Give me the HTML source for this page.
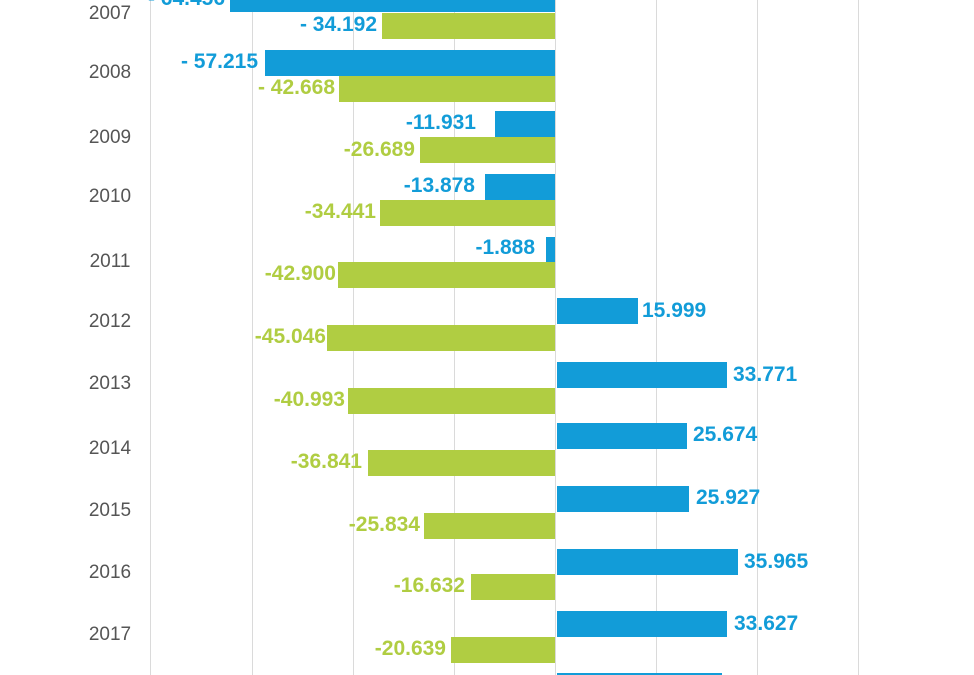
<!DOCTYPE html>
<html><head><meta charset="utf-8"><style>
html{overflow:hidden}
body{margin:0;background:#fff;width:974px;height:675px;overflow:hidden;position:relative;font-family:"Liberation Sans",sans-serif}
.g{position:absolute;top:0;height:675px;width:1px;background:#dadada}
.b{position:absolute;height:26px;background:#129cd8}
.n{position:absolute;height:26px;background:#b0cd42}
.y{position:absolute;left:65px;width:90px;text-align:center;font-size:19px;color:#555;line-height:24px}
.l{position:absolute;font-size:21px;font-weight:bold;line-height:26px;white-space:nowrap;letter-spacing:0}
.lb{color:#129cd8}.lg{color:#b0cd42}
.r{text-align:right;width:200px}
</style></head><body>
<div class="g" style="left:150px"></div><div class="g" style="left:252px"></div><div class="g" style="left:353px"></div><div class="g" style="left:454px"></div><div class="g" style="left:555px"></div><div class="g" style="left:656px"></div><div class="g" style="left:757px"></div><div class="g" style="left:858px"></div>

<div class="y" style="top:2px">2007</div>
<div class="b" style="left:230px;width:325px;top:-14px"></div><div class="l lb r" style="left:25px;top:-14px">- 64.456</div>
<div class="n" style="left:382px;width:173px;top:13px"></div><div class="l lb r" style="left:177px;top:12px">- 34.192</div>

<div class="y" style="top:61px">2008</div>
<div class="b" style="left:265px;width:290px;top:50px"></div><div class="l lb r" style="left:58px;top:49px">- 57.215</div>
<div class="n" style="left:339px;width:216px;top:76px"></div><div class="l lg r" style="left:135px;top:75px">- 42.668</div>

<div class="y" style="top:126px">2009</div>
<div class="b" style="left:495px;width:60px;top:111px"></div><div class="l lb r" style="left:276px;top:110px">-11.931</div>
<div class="n" style="left:420px;width:135px;top:137px"></div><div class="l lg r" style="left:215px;top:137px">-26.689</div>

<div class="y" style="top:185px">2010</div>
<div class="b" style="left:485px;width:70px;top:174px"></div><div class="l lb r" style="left:275px;top:173px">-13.878</div>
<div class="n" style="left:380px;width:175px;top:200px"></div><div class="l lg r" style="left:176px;top:199px">-34.441</div>

<div class="y" style="top:250px">2011</div>
<div class="b" style="left:546px;width:9px;top:237px"></div><div class="l lb r" style="left:335px;top:235px">-1.888</div>
<div class="n" style="left:338px;width:217px;top:262px"></div><div class="l lg r" style="left:136px;top:261px">-42.900</div>

<div class="y" style="top:310px">2012</div>
<div class="b" style="left:557px;width:81px;top:298px"></div><div class="l lb" style="left:642px;top:298px">15.999</div>
<div class="n" style="left:327px;width:228px;top:325px"></div><div class="l lg r" style="left:126px;top:324px">-45.046</div>

<div class="y" style="top:372px">2013</div>
<div class="b" style="left:557px;width:170px;top:362px"></div><div class="l lb" style="left:733px;top:362px">33.771</div>
<div class="n" style="left:348px;width:207px;top:388px"></div><div class="l lg r" style="left:145px;top:387px">-40.993</div>

<div class="y" style="top:437px">2014</div>
<div class="b" style="left:557px;width:130px;top:423px"></div><div class="l lb" style="left:693px;top:422px">25.674</div>
<div class="n" style="left:368px;width:187px;top:450px"></div><div class="l lg r" style="left:162px;top:449px">-36.841</div>

<div class="y" style="top:499px">2015</div>
<div class="b" style="left:557px;width:132px;top:486px"></div><div class="l lb" style="left:696px;top:485px">25.927</div>
<div class="n" style="left:424px;width:131px;top:513px"></div><div class="l lg r" style="left:220px;top:512px">-25.834</div>

<div class="y" style="top:561px">2016</div>
<div class="b" style="left:557px;width:181px;top:549px"></div><div class="l lb" style="left:744px;top:549px">35.965</div>
<div class="n" style="left:471px;width:84px;top:574px"></div><div class="l lg r" style="left:265px;top:573px">-16.632</div>

<div class="y" style="top:623px">2017</div>
<div class="b" style="left:557px;width:170px;top:611px"></div><div class="l lb" style="left:734px;top:611px">33.627</div>
<div class="n" style="left:451px;width:104px;top:637px"></div><div class="l lg r" style="left:246px;top:636px">-20.639</div>

<div class="b" style="left:557px;width:165px;top:673px;height:2px"></div>
</body></html>
